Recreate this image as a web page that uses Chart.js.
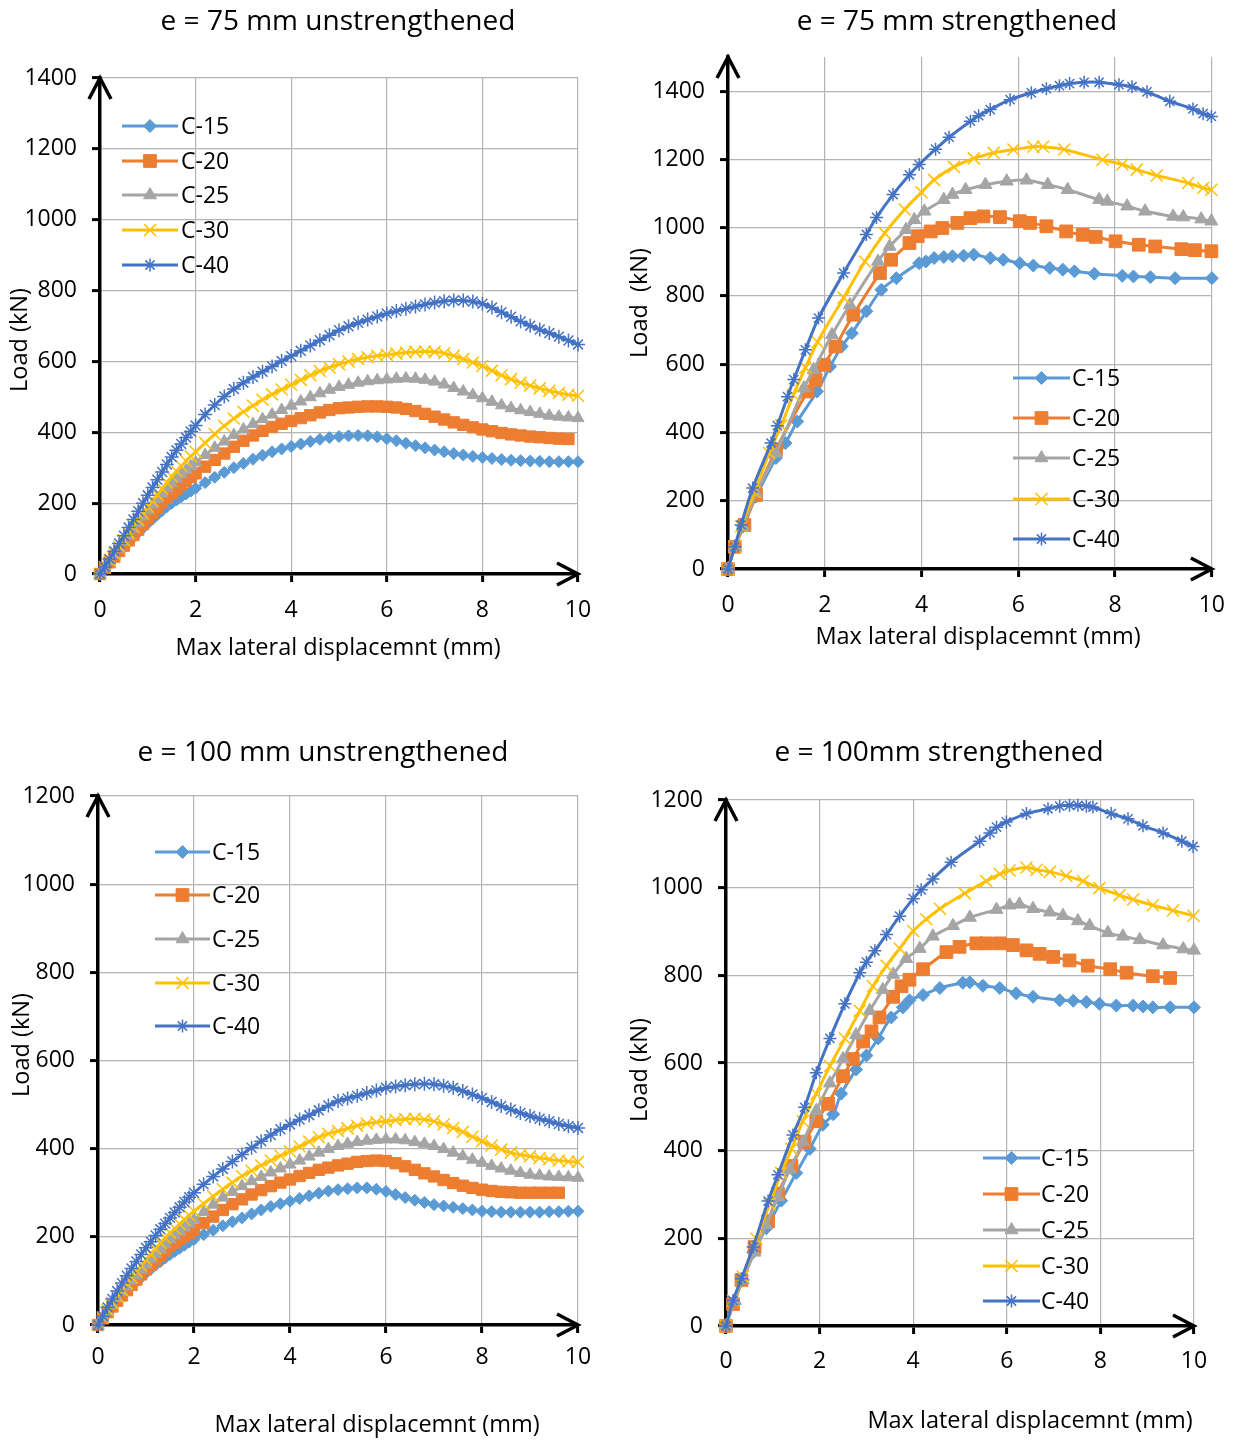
<!DOCTYPE html>
<html>
<head>
<meta charset="utf-8">
<title>Load - displacement curves</title>
<script src="https://cdn.jsdelivr.net/npm/chart.js@4.4.0/dist/chart.umd.min.js"></script>
<style>
  body { margin: 0; background: #fff; }
  #page { position: relative; width: 1240px; height: 1441px; }
  #page canvas { position: absolute; }
</style>
</head>
<body>
<div id="page">
  <canvas id="p1" width="620" height="720" style="left:0;top:0"></canvas>
  <canvas id="p2" width="620" height="720" style="left:620px;top:0"></canvas>
  <canvas id="p3" width="620" height="721" style="left:0;top:720px"></canvas>
  <canvas id="p4" width="620" height="721" style="left:620px;top:720px"></canvas>
</div>
<script>
var seriesNames = ['C-15', 'C-20', 'C-25', 'C-30', 'C-40'];
var seriesColors = ['#5b9bd5', '#ed7d31', '#a5a5a5', '#ffc000', '#4472c4'];
var seriesMarkers = ['rectRot', 'rect', 'triangle', 'crossRot', 'star'];

var xTicks = [0, 2, 4, 6, 8, 10];

// displacement steps (mm) of the unstrengthened runs
var dispU = [0, 0.1, 0.2, 0.3, 0.4, 0.5, 0.6, 0.7, 0.8, 0.9, 1, 1.1, 1.2, 1.3, 1.4, 1.5, 1.6, 1.7, 1.8, 1.9, 2,
  2.2, 2.4, 2.6, 2.8, 3, 3.2, 3.4, 3.6, 3.8, 4, 4.2, 4.4, 4.6, 4.8, 5, 5.2, 5.4, 5.6, 5.8, 6,
  6.2, 6.4, 6.6, 6.8, 7, 7.2, 7.4, 7.6, 7.8, 8, 8.2, 8.4, 8.6, 8.8, 9, 9.2, 9.4, 9.6, 9.8, 10];

// e = 75 mm unstrengthened, load (kN)
var u75_c15 = [0, 16, 32, 47, 62, 76, 90, 104, 117, 130, 143, 155, 167, 179, 190, 200, 209, 218, 226, 234, 242,
  258, 273, 287, 300, 312, 324, 335, 345, 353, 360, 367, 374, 380, 385, 388, 390, 391, 390, 387, 382,
  376, 369, 362, 356, 350, 345, 340, 336, 332, 329, 326, 323, 321, 320, 319, 318, 317, 317, 317, 317];
var u75_c20 = [0, 17, 33, 49, 65, 80, 95, 110, 125, 141, 157, 172, 187, 202, 215, 228, 240, 252, 263, 274, 284,
  303, 322, 340, 359, 376, 391, 404, 415, 424, 432, 440, 448, 456, 463, 468, 470, 472, 473, 473, 472,
  470, 466, 460, 452, 444, 436, 428, 421, 414, 408, 403, 398, 394, 391, 388, 386, 384, 382, 381];
var u75_c25 = [0, 18, 36, 54, 72, 90, 108, 126, 144, 162, 180, 196, 212, 227, 242, 256, 269, 281, 293, 304, 315,
  336, 356, 374, 392, 408, 423, 437, 450, 463, 475, 487, 499, 510, 520, 528, 534, 540, 544, 547, 549,
  551, 552, 551, 548, 543, 535, 525, 515, 505, 496, 486, 476, 468, 462, 457, 452, 447, 444, 442, 440];
var u75_c30 = [0, 19, 39, 58, 77, 96, 115, 134, 153, 172, 190, 207, 224, 241, 258, 275, 290, 305, 319, 332, 345,
  370, 395, 418, 439, 458, 475, 492, 507, 521, 534, 548, 561, 573, 583, 592, 600, 607, 612, 616, 619,
  622, 625, 627, 628, 627, 623, 616, 607, 597, 587, 574, 561, 550, 540, 532, 524, 517, 511, 506, 503];
var u75_c40 = [0, 20, 42, 64, 86, 108, 131, 154, 177, 200, 222, 244, 266, 288, 309, 330, 349, 367, 385, 402, 419,
  450, 477, 501, 522, 540, 556, 571, 586, 601, 615, 630, 645, 660, 674, 688, 699, 709, 718, 727, 735,
  742, 749, 755, 761, 766, 770, 772, 772, 769, 763, 752, 739, 726, 713, 701, 690, 680, 670, 659, 648];

// e = 100 mm unstrengthened, load (kN)
var u100_c15 = [0, 14, 28, 41, 54, 66, 77, 88, 98, 108, 118, 127, 136, 144, 152, 160, 167, 174, 181, 188, 194,
  205, 215, 225, 234, 243, 252, 261, 269, 275, 281, 287, 293, 299, 304, 307, 309, 311, 311, 308, 303,
  296, 289, 283, 278, 273, 270, 267, 264, 261, 258, 257, 256, 256, 256, 256, 256, 257, 257, 258, 258];
var u100_c20 = [0, 15, 29, 42, 55, 67, 79, 91, 103, 115, 126, 137, 148, 159, 169, 179, 187, 195, 202, 209, 216,
  231, 246, 261, 274, 285, 296, 306, 315, 323, 330, 338, 345, 352, 357, 362, 366, 370, 372, 373, 372,
  367, 360, 352, 344, 337, 329, 322, 316, 311, 307, 304, 302, 301, 300, 300, 300, 300, 300];
var u100_c25 = [0, 16, 31, 46, 61, 75, 88, 101, 113, 125, 137, 149, 161, 172, 183, 194, 203, 212, 221, 230, 239,
  256, 273, 289, 302, 315, 326, 336, 346, 355, 364, 373, 382, 391, 399, 406, 411, 415, 418, 420, 421,
  421, 419, 415, 411, 406, 399, 391, 383, 375, 368, 361, 355, 350, 345, 341, 339, 337, 336, 335, 334];
var u100_c30 = [0, 17, 34, 50, 65, 80, 94, 108, 122, 135, 148, 161, 173, 186, 198, 209, 219, 229, 239, 249, 258,
  275, 292, 308, 323, 338, 350, 362, 373, 384, 394, 405, 416, 426, 434, 440, 446, 452, 457, 460, 462,
  465, 467, 468, 466, 462, 455, 447, 438, 427, 417, 407, 398, 391, 386, 383, 379, 376, 373, 371, 370];
var u100_c40 = [0, 20, 40, 59, 77, 95, 112, 128, 144, 160, 175, 189, 203, 217, 230, 243, 255, 267, 279, 290, 300,
  319, 337, 354, 371, 387, 402, 417, 431, 444, 455, 466, 476, 487, 498, 508, 514, 520, 526, 532, 538,
  541, 544, 546, 547, 546, 543, 538, 531, 523, 515, 506, 497, 489, 481, 474, 468, 462, 456, 451, 447];

// e = 75 mm strengthened: displacement (mm) / load (kN)
var s75_c15_x = [0, 0.14, 0.31, 0.58, 0.99, 1.19, 1.43, 1.84, 2.11, 2.35, 2.56, 2.86, 3.17, 3.48, 3.95, 4.09, 4.26,
  4.46, 4.64, 4.87, 5.08, 5.42, 5.69, 6.03, 6.31, 6.65, 6.92, 7.16, 7.57, 8.15, 8.38, 8.73, 9.24, 10];
var s75_c15_y = [0, 65, 124, 212, 325, 369, 432, 520, 593, 652, 691, 755, 818, 852, 896, 901, 911,
  914, 916, 918, 921, 911, 906, 896, 889, 882, 877, 872, 865, 859, 857, 855, 852, 852];
var s75_c20_x = [0, 0.14, 0.34, 0.58, 0.99, 1.64, 1.81, 1.98, 2.22, 2.59, 3.14, 3.37, 3.75, 3.92, 4.19, 4.43,
  4.74, 5.01, 5.28, 5.62, 6.03, 6.24, 6.58, 6.99, 7.33, 7.6, 8.01, 8.49, 8.83, 9.37, 9.65, 9.99];
var s75_c20_y = [0, 65, 129, 217, 349, 520, 554, 598, 652, 745, 867, 906, 955, 975, 989, 999,
  1014, 1028, 1033, 1031, 1019, 1014, 1004, 989, 979, 973, 960, 950, 945, 937, 934, 931];
var s75_c25_x = [0, 0.14, 0.31, 0.58, 0.99, 1.57, 1.77, 2.15, 2.52, 3.1, 3.34, 3.68, 3.85, 4.06, 4.46, 4.64,
  4.91, 5.32, 5.76, 6.17, 6.61, 7.02, 7.67, 7.84, 8.25, 8.62, 9.2, 9.41, 9.78, 9.99];
var s75_c25_y = [0, 65, 124, 222, 339, 530, 584, 686, 774, 901, 945, 994, 1023, 1048, 1082, 1097,
  1111, 1126, 1136, 1139, 1126, 1111, 1082, 1077, 1063, 1048, 1033, 1031, 1025, 1019];
var s75_c30_x = [0, 0.14, 0.27, 0.55, 0.85, 1.1, 1.35, 1.6, 1.85, 2.39, 2.83, 3.24, 3.65, 4, 4.26, 4.67,
  5.08, 5.49, 5.9, 6.31, 6.51, 6.95, 7.74, 8.15, 8.45, 8.86, 9.51, 9.82, 9.99];
var s75_c30_y = [0, 65, 125, 225, 340, 420, 510, 590, 665, 795, 901, 984, 1053, 1104, 1140, 1178,
  1203, 1219, 1229, 1237, 1237, 1229, 1199, 1185, 1170, 1153, 1131, 1116, 1111];
var s75_c40_x = [0, 0.14, 0.27, 0.51, 0.89, 1.02, 1.23, 1.36, 1.6, 1.87, 2.39, 2.86, 3.07, 3.41, 3.75, 3.95,
  4.29, 4.57, 5.01, 5.18, 5.42, 5.83, 6.27, 6.58, 6.85, 7.06, 7.36, 7.67, 8.08, 8.35, 8.66, 9.13, 9.61, 9.82, 9.99];
var s75_c40_y = [0, 65, 129, 237, 369, 420, 505, 555, 642, 735, 867, 980, 1030, 1097, 1155, 1185,
  1230, 1265, 1312, 1328, 1346, 1375, 1395, 1407, 1416, 1422, 1426, 1426, 1419, 1413, 1398, 1370, 1348, 1334, 1326];

// e = 100 mm strengthened: displacement (mm) / load (kN)
var s100_c15_x = [0, 0.15, 0.36, 0.58, 0.86, 1.18, 1.5, 1.79, 2.07, 2.29, 2.46, 2.78, 3, 3.25, 3.53, 3.78, 3.92,
  4.21, 4.57, 5.06, 5.21, 5.49, 5.85, 6.2, 6.56, 7.13, 7.42, 7.7, 7.98, 8.34, 8.7, 8.91, 9.12, 9.49, 10];
var s100_c15_y = [0, 50, 105, 168, 223, 286, 349, 404, 459, 483, 530, 585, 617, 656, 704, 727, 743,
  755, 771, 783, 784, 776, 771, 759, 751, 743, 742, 739, 735, 731, 731, 729, 727, 727, 727];
var s100_c20_x = [0, 0.15, 0.33, 0.61, 0.9, 1.11, 1.4, 1.68, 1.93, 2.18, 2.5, 2.71, 2.93, 3.11, 3.28, 3.57, 3.75,
  3.92, 4.21, 4.71, 4.99, 5.35, 5.56, 5.85, 6.13, 6.42, 6.7, 6.99, 7.34, 7.73, 8.21, 8.56, 9.12, 9.49];
var s100_c20_y = [0, 50, 105, 180, 239, 302, 365, 420, 467, 507, 570, 609, 649, 672, 704, 751, 775,
  790, 814, 853, 865, 873, 873, 873, 869, 857, 849, 842, 834, 822, 814, 806, 798, 794];
var s100_c25_x = [0, 0.19, 0.36, 0.61, 0.86, 1.11, 1.36, 1.65, 1.93, 2.22, 2.5, 2.78, 3.07, 3.35, 3.57, 3.85, 4.14,
  4.42, 4.85, 5.21, 5.78, 6.06, 6.27, 6.56, 6.92, 7.2, 7.52, 7.77, 8.16, 8.48, 8.84, 9.34, 9.77, 10];
var s100_c25_y = [0, 58, 105, 168, 231, 294, 357, 420, 491, 554, 609, 664, 719, 767, 802, 838, 861,
  889, 913, 932, 950, 960, 962, 952, 944, 936, 924, 913, 897, 889, 881, 869, 860, 857];
var s100_c30_x = [0, 0.15, 0.36, 0.65, 0.93, 1.18, 1.4, 1.64, 1.93, 2.22, 2.54, 2.86, 3.14, 3.43, 3.71, 4, 4.28,
  4.57, 5.1, 5.56, 5.85, 6.06, 6.42, 6.64, 6.92, 7.27, 7.63, 7.98, 8.41, 8.7, 9.12, 9.55, 9.99];
var s100_c30_y = [0, 58, 113, 199, 278, 349, 404, 467, 530, 593, 656, 719, 775, 822, 861, 901, 928,
  952, 987, 1015, 1031, 1039, 1046, 1041, 1036, 1027, 1015, 999, 983, 973, 960, 948, 936];
var s100_c40_x = [0, 0.15, 0.33, 0.58, 0.9, 1.11, 1.43, 1.68, 1.93, 2.22, 2.54, 2.86, 3, 3.18, 3.43, 3.71, 4,
  4.17, 4.42, 4.81, 5.42, 5.64, 5.78, 5.99, 6.42, 6.88, 7.13, 7.34, 7.52, 7.7, 7.84, 8.23, 8.59, 8.91, 9.34, 9.74, 9.98];
var s100_c40_y = [0, 58, 108, 180, 285, 345, 436, 499, 578, 656, 735, 806, 830, 856, 893, 935, 975,
  995, 1020, 1058, 1106, 1125, 1138, 1150, 1169, 1180, 1186, 1188, 1188, 1186, 1184, 1169, 1157, 1141, 1125, 1106, 1094];

var FONT = 'Open Sans';
var Y_W = 80;   // fixed width of the load axis
var X_H = 45;   // fixed height of the displacement axis

// marker radius / border per series: sparse (strengthened) and dense (unstrengthened) runs
var markerRadius = [6.5, 9, 7.5, 8.5, 6.5];
var denseRadius = [6, 8, 7, 8.5, 7];
var markerBorder = [1, 1, 1, 1.5, 1.5];

var panels = [
  {
    id: 'p1', yMax: 1400, plot: [100, 78, 578, 574], xPad: 15, dense: true,
    title: 'e = 75 mm unstrengthened', titleAt: [338, 22],
    xTitle: 'Max lateral displacemnt (mm)', xTitleAt: [338, 648],
    yTitle: 'Load (kN)', yTitleAt: [20, 340],
    legendLine: [122, 178], legendText: 181, legendRows: [126, 161, 195, 230, 265],
    series: [[dispU, u75_c15], [dispU, u75_c20], [dispU, u75_c25], [dispU, u75_c30], [dispU, u75_c40]]
  },
  {
    id: 'p2', yMax: 1500, plot: [108, 57, 597, 569], xPad: 15, dense: false,
    title: 'e = 75 mm strengthened', titleAt: [337, 22],
    xTitle: 'Max lateral displacemnt (mm)', xTitleAt: [358, 637],
    yTitle: 'Load  (kN)', yTitleAt: [20, 303],
    legendLine: [393, 450], legendText: 452, legendRows: [378, 418, 458, 499, 539],
    series: [[s75_c15_x, s75_c15_y], [s75_c20_x, s75_c20_y], [s75_c25_x, s75_c25_y],
             [s75_c30_x, s75_c30_y], [s75_c40_x, s75_c40_y]]
  },
  {
    id: 'p3', yMax: 1200, plot: [98, 76, 578, 605], xPad: 11, dense: true,
    title: 'e = 100 mm unstrengthened', titleAt: [323, 33],
    xTitle: 'Max lateral displacemnt (mm)', xTitleAt: [377, 705],
    yTitle: 'Load (kN)', yTitleAt: [22, 325],
    legendLine: [155, 210], legendText: 212, legendRows: [132, 175, 219, 263, 306],
    series: [[dispU, u100_c15], [dispU, u100_c20], [dispU, u100_c25], [dispU, u100_c30], [dispU, u100_c40]]
  },
  {
    id: 'p4', yMax: 1200, plot: [106, 80, 574, 606], xPad: 14, dense: false,
    title: 'e = 100mm strengthened', titleAt: [319, 33],
    xTitle: 'Max lateral displacemnt (mm)', xTitleAt: [410, 701],
    yTitle: 'Load (kN)', yTitleAt: [20, 350],
    legendLine: [363, 420], legendText: 421, legendRows: [438, 474, 510, 546, 581],
    series: [[s100_c15_x, s100_c15_y], [s100_c20_x, s100_c20_y], [s100_c25_x, s100_c25_y],
             [s100_c30_x, s100_c30_y], [s100_c40_x, s100_c40_y]]
  }
];

function makeDataset(xs, ys, i, dense) {
  var pts = [];
  for (var k = 0; k < ys.length; k++) pts.push({ x: xs[k], y: ys[k] });
  return {
    label: seriesNames[i],
    data: pts,
    borderColor: seriesColors[i],
    backgroundColor: seriesColors[i],
    borderWidth: 3,
    pointStyle: seriesMarkers[i],
    pointRadius: dense ? denseRadius[i] : markerRadius[i],
    pointBorderWidth: markerBorder[i],
    pointBackgroundColor: seriesColors[i],
    pointBorderColor: seriesColors[i],
    tension: dense ? 0.1 : 0.3,
    clip: false,
    order: 4 - i   // C-40 ends up on top
  };
}

// titles, arrows on the axes and the inset legend
function makeDecor(p) {
  return {
    id: 'decor',
    beforeDatasetsDraw: function (chart) {
      var ctx = chart.ctx, a = chart.chartArea;
      ctx.save();
      ctx.strokeStyle = '#000';
      ctx.lineWidth = 3.5;
      ctx.beginPath();
      ctx.moveTo(a.left - 11, a.top + 21);
      ctx.lineTo(a.left, a.top);
      ctx.lineTo(a.left + 11, a.top + 21);
      ctx.moveTo(a.right - 21, a.bottom - 11);
      ctx.lineTo(a.right, a.bottom);
      ctx.lineTo(a.right - 21, a.bottom + 11);
      ctx.stroke();
      ctx.restore();
    },
    afterDraw: function (chart) {
      var ctx = chart.ctx;
      ctx.save();
      ctx.fillStyle = '#000';
      ctx.textAlign = 'center';
      ctx.textBaseline = 'middle';
      ctx.font = '28px "' + FONT + '"';
      ctx.fillText(p.title, p.titleAt[0], p.titleAt[1]);
      ctx.font = '23.5px "' + FONT + '"';
      ctx.fillText(p.xTitle, p.xTitleAt[0], p.xTitleAt[1]);
      ctx.save();
      ctx.translate(p.yTitleAt[0], p.yTitleAt[1]);
      ctx.rotate(-Math.PI / 2);
      ctx.fillText(p.yTitle, 0, 0);
      ctx.restore();

      ctx.font = '23px "' + FONT + '"';
      var mid = (p.legendLine[0] + p.legendLine[1]) / 2;
      for (var i = 0; i < seriesNames.length; i++) {
        var y = p.legendRows[i];
        ctx.strokeStyle = seriesColors[i];
        ctx.fillStyle = seriesColors[i];
        ctx.lineWidth = 3;
        ctx.beginPath();
        ctx.moveTo(p.legendLine[0], y);
        ctx.lineTo(p.legendLine[1], y);
        ctx.stroke();
        ctx.lineWidth = markerBorder[i];
        Chart.helpers.drawPoint(ctx, {
          pointStyle: seriesMarkers[i], radius: markerRadius[i],
          rotation: 0, borderWidth: markerBorder[i]
        }, mid, y);
        ctx.fillStyle = '#000';
        ctx.textAlign = 'left';
        ctx.fillText(seriesNames[i], p.legendText, y + 1);
      }
      ctx.restore();
    }
  };
}

Chart.defaults.font.family = FONT;

panels.forEach(function (p) {
  var canvas = document.getElementById(p.id);
  var datasets = p.series.map(function (s, i) { return makeDataset(s[0], s[1], i, p.dense); });
  var grid = { color: '#b4b4b4', lineWidth: 1.2, tickColor: '#000', tickWidth: 3, tickLength: 8 };
  new Chart(canvas.getContext('2d'), {
    type: 'line',
    data: { datasets: datasets },
    options: {
      responsive: false,
      animation: false,
      events: [],
      layout: {
        padding: {
          left: p.plot[0] - Y_W,
          top: p.plot[1],
          right: canvas.width - p.plot[2],
          bottom: canvas.height - p.plot[3] - X_H
        }
      },
      plugins: { legend: { display: false }, tooltip: { enabled: false } },
      scales: {
        x: {
          type: 'linear', min: 0, max: 10,
          afterFit: function (s) { s.height = X_H; },
          afterBuildTicks: function (s) { s.ticks = xTicks.map(function (v) { return { value: v }; }); },
          ticks: { padding: p.xPad, color: '#000', font: { size: 23 }, maxRotation: 0 },
          grid: grid,
          border: { color: '#000', width: 3.5 }
        },
        y: {
          type: 'linear', min: 0, max: p.yMax,
          afterFit: function (s) { s.width = Y_W; },
          ticks: {
            stepSize: 200, includeBounds: false, padding: 15, color: '#000', font: { size: 23 },
            callback: function (v) { return String(v); }
          },
          grid: grid,
          border: { color: '#000', width: 3.5 }
        }
      }
    },
    plugins: [makeDecor(p)]
  });
});
</script>
</body>
</html>
